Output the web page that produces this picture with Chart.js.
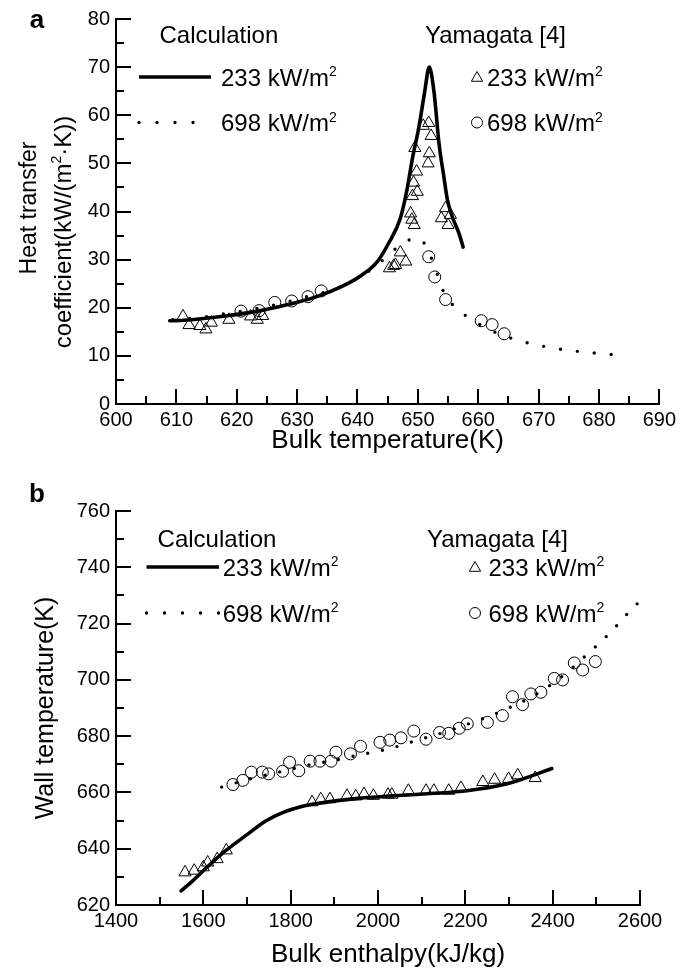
<!DOCTYPE html>
<html>
<head>
<meta charset="utf-8">
<title>Heat transfer coefficient and wall temperature</title>
<script src="https://cdn.jsdelivr.net/npm/chart.js@4.4.1/dist/chart.umd.min.js"></script>
<style>
  html, body { margin: 0; padding: 0; background: #fff; }
  canvas { position: absolute; left: 0; }
  #panelA { top: 0; }
  #panelB { top: 470px; }
</style>
</head>
<body>
<canvas id="panelA" width="680" height="470"></canvas>
<canvas id="panelB" width="680" height="501"></canvas>
<script>
// ---- series labels ----
const fluxLabels = ['233', '698'];          // kW/m2
const legendHeads = ['Calculation', 'Yamagata [4]'];

// ---- panel a: heat transfer coefficient vs bulk temperature ----
const aXTicks = [600, 610, 620, 630, 640, 650, 660, 670, 680, 690];
const aYTicks = [0, 10, 20, 30, 40, 50, 60, 70, 80];

const aCalc233X = [608.9, 611.3, 614.1, 618.8, 623.6, 628.3, 633.0, 637.7, 640.5, 643.3, 645.2, 647.1, 648.2, 649.1, 650.2, 651.1, 651.9, 652.7, 653.5, 654.3, 654.9, 655.7, 656.8, 657.5];
const aCalc233Y = [17.3, 17.4, 17.7, 18.4, 19.3, 20.6, 22.2, 24.6, 26.6, 29.6, 33.5, 38.6, 44.5, 51, 57.7, 64.6, 70, 64.6, 54.2, 47.3, 42.4, 38.9, 35.5, 32.6];

const aCalc698X = [609.4, 614.1, 618.8, 623.6, 628.3, 633, 636.1, 638.3, 640.6, 643.9, 645.4, 647.1, 648.8, 649.9, 650.9, 652.6, 654.1, 655.9, 658, 661, 664, 667, 670, 673, 676, 680, 684];
const aCalc698Y = [17.5, 18, 18.9, 19.9, 21.2, 22.8, 23.7, 25.1, 26.5, 29.6, 31.2, 33.1, 34.2, 34.4, 33.7, 29.2, 23.8, 20.4, 18.3, 16, 14.3, 13.1, 12.2, 11.5, 11, 10.5, 10.1];

const aExp233X = [611.1, 612.1, 613.9, 614.9, 615.8, 618.7, 622.3, 623.4, 624.3, 645.3, 646, 646.3, 647.1, 648, 648.8, 649, 649.4, 649.1, 649.9, 649.3, 649.8, 649.5, 650.9, 651.8, 652.2, 651.9, 651.7, 654.6, 655.4, 653.9, 655];
const aExp233Y = [18.2, 16.4, 16.2, 15.5, 16.9, 17.5, 18.2, 17.5, 18.3, 28.2, 28.7, 28.9, 31.5, 29.6, 39.6, 38.3, 37.2, 43.2, 44.1, 46, 48.3, 53.2, 57.8, 58.4, 55.7, 52.1, 50, 40.7, 39.3, 38.6, 37.2];

const aExp698X = [620.7, 623.7, 626.3, 629.1, 631.8, 634, 651.8, 652.8, 654.6, 660.5, 662.3, 664.3];
const aExp698Y = [19.3, 19.4, 21.1, 21.4, 22.3, 23.5, 30.6, 26.4, 21.7, 17.3, 16.5, 14.6];

// ---- panel b: wall temperature vs bulk enthalpy ----
const bXTicks = [1400, 1600, 1800, 2000, 2200, 2400, 2600];
const bYTicks = [620, 640, 660, 680, 700, 720, 740, 760];

const bCalc233X = [1549, 1575, 1600, 1625, 1652, 1700, 1741, 1783, 1825, 1867, 1950, 2036, 2120, 2204, 2288, 2330, 2398];
const bCalc233Y = [625, 628.5, 632.2, 635.8, 639.4, 645, 649.7, 652.9, 655, 656.2, 657.8, 658.8, 659.6, 660.6, 662.8, 664.7, 668.5];

const bCalc698X = [1642, 1700, 1750, 1800, 1850, 1909.5, 1947, 1978.5, 2010, 2044, 2076, 2150, 2229, 2262, 2302, 2350, 2384, 2436, 2461, 2485, 2507, 2530, 2551, 2577, 2600];
const bCalc698Y = [661.9, 664.5, 666.4, 668.2, 670, 671.7, 673, 674, 675, 676.3, 677.9, 681.3, 685.6, 687.5, 690.2, 693.8, 697, 703, 706.5, 710, 713, 716.5, 720, 724.5, 728];

const bExp233X = [1558, 1579, 1600, 1610, 1631.6, 1652.6, 1849, 1869, 1890, 1929, 1949, 1968, 1989.5, 2023, 2031.6, 2069.5, 2110, 2128, 2162, 2190, 2240, 2267, 2299, 2320, 2360];
const bExp233Y = [631.6, 632.2, 633.4, 635.1, 636.3, 639.4, 656.5, 657.6, 657.6, 658.8, 658.6, 659.4, 658.8, 659.2, 659.2, 660.6, 660.6, 660.6, 660.6, 661.6, 663.7, 664.5, 664.8, 666.1, 665.1];

const bExp698X = [1667.8, 1690.5, 1710, 1735, 1749.5, 1781.5, 1797.5, 1818.5, 1844.6, 1867, 1892.6, 1903.6, 1937, 1960, 2004.6, 2027, 2052.6, 2082, 2110, 2141, 2162, 2186, 2204.5, 2250.5, 2285, 2308, 2331, 2350, 2373, 2403.6, 2422.7, 2449.5, 2468.6, 2497.8];
const bExp698Y = [662.8, 664.3, 667.2, 667.2, 666.6, 667.5, 670.7, 667.7, 671.1, 671.1, 671.1, 674.3, 673.7, 676.4, 677.8, 678.6, 679.4, 681.8, 678.9, 681.3, 681, 682.8, 684.4, 684.9, 687.3, 694, 691.2, 695, 695.6, 700.5, 700, 706, 703.5, 706.5];

// ---- drawing helpers ----
const FONT = '"Liberation Sans", Arial, Helvetica, sans-serif';
const MAJOR_TICK = 15;
const MINOR_TICK = 8;

function xy(xs, ys) {
    return xs.map((x, i) => ({ x: x, y: ys[i] }));
}

function curve(xs, ys, dotGap) {
    return {
        data: xy(xs, ys),
        showLine: true,
        pointRadius: 0,
        borderColor: '#000',
        borderWidth: dotGap ? 3.4 : 3.6,
        borderDash: dotGap ? [0, dotGap] : [],
        borderCapStyle: 'round',
        cubicInterpolationMode: 'monotone',
        fill: false
    };
}

function marks(xs, ys, style) {
    return {
        data: xy(xs, ys),
        showLine: false,
        pointStyle: style,
        pointRadius: style === 'triangle' ? 7 : 6,
        pointBorderColor: '#000',
        pointBackgroundColor: 'rgba(0,0,0,0)',
        pointBorderWidth: 1
    };
}

function useTicks(values) {
    return scale => { scale.ticks = values.map(v => ({ value: v })); };
}

// ticks pointing into the plot, major + one minor between
const inwardTicks = {
    id: 'inwardTicks',
    beforeDatasetsDraw(chart) {
        const { ctx, chartArea } = chart;
        const xs = chart.scales.x;
        const ys = chart.scales.y;
        const xv = xs.ticks.map(t => t.value);
        const yv = ys.ticks.map(t => t.value);
        ctx.save();
        ctx.strokeStyle = '#000';
        ctx.lineWidth = 2;
        ctx.beginPath();
        xv.forEach((v, i) => {
            const px = Math.round(xs.getPixelForValue(v));
            ctx.moveTo(px, chartArea.bottom);
            ctx.lineTo(px, chartArea.bottom - MAJOR_TICK);
            if (i < xv.length - 1) {
                const m = Math.round(xs.getPixelForValue((v + xv[i + 1]) / 2));
                ctx.moveTo(m, chartArea.bottom);
                ctx.lineTo(m, chartArea.bottom - MINOR_TICK);
            }
        });
        yv.forEach((v, i) => {
            const py = Math.round(ys.getPixelForValue(v));
            ctx.moveTo(chartArea.left, py);
            ctx.lineTo(chartArea.left + MAJOR_TICK, py);
            if (i < yv.length - 1) {
                const m = Math.round(ys.getPixelForValue((v + yv[i + 1]) / 2));
                ctx.moveTo(chartArea.left, m);
                ctx.lineTo(chartArea.left + MINOR_TICK, m);
            }
        });
        ctx.stroke();
        ctx.restore();
    }
};

// text with an optional superscript part
function rich(ctx, parts, x, y, size) {
    let w = 0;
    parts.forEach(p => {
        const s = p.sup ? Math.round(size * 0.6) : size;
        ctx.font = s + 'px ' + FONT;
        ctx.fillText(p.t, x + w, p.sup ? y - size * 0.4 : y);
        w += ctx.measureText(p.t).width;
    });
    return w;
}

function richWidth(ctx, parts, size) {
    let w = 0;
    parts.forEach(p => {
        ctx.font = (p.sup ? Math.round(size * 0.6) : size) + 'px ' + FONT;
        w += ctx.measureText(p.t).width;
    });
    return w;
}

function fluxText(label) {
    return [{ t: label + ' kW/m' }, { t: '2', sup: true }];
}

function sampleLine(ctx, x0, x1, y, dotted) {
    ctx.save();
    ctx.strokeStyle = '#000';
    ctx.lineCap = dotted ? 'round' : 'butt';
    ctx.lineWidth = dotted ? 3.4 : 3.6;
    ctx.setLineDash(dotted ? [0, 18] : []);
    ctx.beginPath();
    ctx.moveTo(x0, y);
    ctx.lineTo(x1, y);
    ctx.stroke();
    ctx.restore();
}

function triangle(ctx, x, y, r) {
    ctx.save();
    ctx.strokeStyle = '#000';
    ctx.lineWidth = 1;
    ctx.beginPath();
    ctx.moveTo(x, y - r);
    ctx.lineTo(x + r * 0.866, y + r / 2);
    ctx.lineTo(x - r * 0.866, y + r / 2);
    ctx.closePath();
    ctx.stroke();
    ctx.restore();
}

function circle(ctx, x, y, r) {
    ctx.save();
    ctx.strokeStyle = '#000';
    ctx.lineWidth = 1;
    ctx.beginPath();
    ctx.arc(x, y, r, 0, Math.PI * 2);
    ctx.stroke();
    ctx.restore();
}

// legend block: L = positions of left column, R = right column
function drawLegend(ctx, L, R) {
    ctx.fillStyle = '#000';
    ctx.textBaseline = 'alphabetic';
    ctx.font = '24px ' + FONT;
    ctx.fillText(legendHeads[0], L.head, L.yHead + 8.6);
    ctx.fillText(legendHeads[1], R.head, L.yHead + 8.6);
    sampleLine(ctx, L.x0, L.x1, L.y1, false);
    sampleLine(ctx, L.x0, L.x1, L.y2, true);
    rich(ctx, fluxText(fluxLabels[0]), L.text, L.y1 + 8.6, 24);
    rich(ctx, fluxText(fluxLabels[1]), L.text, L.y2 + 8.6, 24);
    triangle(ctx, R.mark, L.y1 + 1, 6.5);
    circle(ctx, R.mark, L.y2, 5.5);
    rich(ctx, fluxText(fluxLabels[0]), R.text, L.y1 + 8.6, 24);
    rich(ctx, fluxText(fluxLabels[1]), R.text, L.y2 + 8.6, 24);
}

function panelLetter(ctx, letter, x, y) {
    ctx.font = 'bold 26px ' + FONT;
    ctx.fillStyle = '#000';
    ctx.textAlign = 'center';
    ctx.textBaseline = 'middle';
    ctx.fillText(letter, x, y);
    ctx.textAlign = 'left';
}

function rotatedRich(ctx, parts, cx, cy, size) {
    const w = richWidth(ctx, parts, size);
    ctx.save();
    ctx.translate(cx, cy);
    ctx.rotate(-Math.PI / 2);
    ctx.textBaseline = 'alphabetic';
    ctx.fillStyle = '#000';
    rich(ctx, parts, -w / 2, size * 0.36, size);
    ctx.restore();
}

function centeredText(ctx, text, cx, cy, size) {
    ctx.font = size + 'px ' + FONT;
    ctx.fillStyle = '#000';
    ctx.textAlign = 'center';
    ctx.textBaseline = 'middle';
    ctx.fillText(text, cx, cy);
    ctx.textAlign = 'left';
}

function axisScales(xMin, xMax, xTicks, yMin, yMax, yTicks, xTitle, yTitle) {
    const tickFont = { family: FONT, size: 20 };
    return {
        x: {
            type: 'linear', min: xMin, max: xMax,
            afterBuildTicks: useTicks(xTicks),
            afterFit: s => { s.height = 66; },
            grid: { display: false, drawTicks: false },
            border: { display: true, color: '#000', width: 2 },
            ticks: { color: '#000', font: tickFont, padding: 4, maxRotation: 0, autoSkip: false, callback: v => String(v) },
            title: xTitle
                ? { display: true, text: xTitle, color: '#000', font: { family: FONT, size: 26 }, padding: { top: 0, bottom: 14 } }
                : { display: false }
        },
        y: {
            type: 'linear', min: yMin, max: yMax,
            afterBuildTicks: useTicks(yTicks),
            afterFit: s => { s.width = 116; },
            grid: { display: false, drawTicks: false },
            border: { display: true, color: '#000', width: 2 },
            ticks: { color: '#000', font: tickFont, padding: 6, autoSkip: false, callback: v => String(v) },
            title: yTitle
                ? { display: true, text: yTitle, color: '#000', font: { family: FONT, size: 25 }, padding: { top: 31, bottom: 0 } }
                : { display: false }
        }
    };
}

const baseOptions = {
    responsive: false,
    animation: false,
    events: [],
    plugins: { legend: { display: false }, tooltip: { enabled: false } }
};

// ---- panel a ----
new Chart(document.getElementById('panelA'), {
    type: 'scatter',
    data: {
        datasets: [
            curve(aCalc233X, aCalc233Y, 0),
            curve(aCalc698X, aCalc698Y, 17),
            marks(aExp233X, aExp233Y, 'triangle'),
            marks(aExp698X, aExp698Y, 'circle')
        ]
    },
    options: Object.assign({}, baseOptions, {
        layout: { padding: { left: 0, right: 17, top: 19, bottom: 0 } },
        scales: axisScales(600, 690, aXTicks, 0, 80, aYTicks, 'Bulk temperature(K)', null)
    }),
    plugins: [inwardTicks, {
        id: 'panelTextA',
        afterDraw(chart) {
            const ctx = chart.ctx;
            ctx.save();
            panelLetter(ctx, 'a', 37, 21);
            rotatedRich(ctx, [{ t: 'Heat transfer' }], 28, 208, 23);
            rotatedRich(ctx, [{ t: 'coefficient(kW/(m' }, { t: '2', sup: true }, { t: '·K))' }], 62, 232, 24);
            drawLegend(ctx,
                { head: 159.5, yHead: 34, x0: 139, x1: 211, y1: 77, y2: 122.5, text: 221 },
                { head: 425, mark: 477, text: 487 });
            ctx.restore();
        }
    }]
});

// ---- panel b ----
new Chart(document.getElementById('panelB'), {
    type: 'scatter',
    data: {
        datasets: [
            curve(bCalc233X, bCalc233Y, 0),
            curve(bCalc698X, bCalc698Y, 15),
            marks(bExp233X, bExp233Y, 'triangle'),
            marks(bExp698X, bExp698Y, 'circle')
        ]
    },
    options: Object.assign({}, baseOptions, {
        layout: { padding: { left: 0, right: 40, top: 41, bottom: 0 } },
        scales: axisScales(1400, 2600, bXTicks, 620, 760, bYTicks, null, 'Wall temperature(K)')
    }),
    plugins: [inwardTicks, {
        id: 'panelTextB',
        afterDraw(chart) {
            const ctx = chart.ctx;
            ctx.save();
            panelLetter(ctx, 'b', 37, 25);
            centeredText(ctx, 'Bulk enthalpy(kJ/kg)', 388, 485, 26);
            drawLegend(ctx,
                { head: 157.6, yHead: 68, x0: 146.5, x1: 219, y1: 97, y2: 143, text: 222.7 },
                { head: 427, mark: 475, text: 488.5 });
            ctx.restore();
        }
    }]
});
</script>
</body>
</html>
